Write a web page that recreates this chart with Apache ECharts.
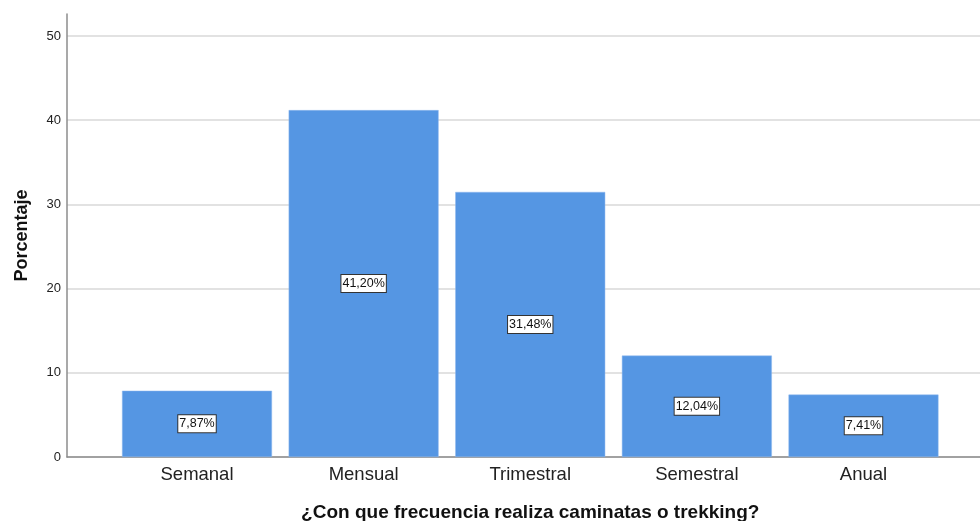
<!DOCTYPE html>
<html><head><meta charset="utf-8">
<script src="https://cdn.jsdelivr.net/npm/echarts@6/dist/echarts.min.js"></script>
<style>html,body{margin:0;padding:0;background:#fff}#c{width:980px;height:521px}</style>
</head><body><div id="c"></div>
<script>
const categories = ['Semanal', 'Mensual', 'Trimestral', 'Semestral', 'Anual'];
const values = [7.87, 41.20, 31.48, 12.04, 7.41];
const yTicks = [0, 10, 20, 30, 40, 50];
const xTitle = '¿Con que frecuencia realiza caminatas o trekking?';
const yTitle = 'Porcentaje';

const chart = echarts.init(document.getElementById('c'));
const font = 'Arial, "Liberation Sans", sans-serif';
chart.setOption({
  animation: false,
  grid: [
    {left: 67, right: 0, top: 36, bottom: 64, outerBoundsMode: 'none'},
    {left: 67, right: 0, top: 14, bottom: 64, outerBoundsMode: 'none'},
    {left: 113.7, right: 33.2, top: 36, bottom: 64, outerBoundsMode: 'none'}
  ],
  xAxis: [
    {gridIndex: 0, type: 'value', min: 0, max: 1, axisLine: {show: true, lineStyle: {color: '#8c8c8c', width: 1.5}}, axisTick: {show: false}, axisLabel: {show: false}, splitLine: {show: false}},
    {gridIndex: 1, type: 'value', show: false},
    {gridIndex: 2, type: 'category', data: categories, axisLine: {show: false}, axisTick: {show: false},
     axisLabel: {fontSize: 18.5, color: '#222', fontFamily: font, margin: 8},
     name: xTitle, nameLocation: 'middle', nameGap: 46,
     nameTextStyle: {fontSize: 19, fontWeight: 'bold', color: '#111', fontFamily: font}},
  ],
  yAxis: [
    {gridIndex: 0, type: 'value', min: yTicks[0], max: yTicks[yTicks.length - 1], interval: 10,
     axisLine: {show: false}, axisTick: {show: false},
     axisLabel: {fontSize: 13, color: '#222', fontFamily: font, margin: 6},
     splitLine: {show: true, lineStyle: {color: '#d9d9d9', width: 1.5}}},
    {gridIndex: 1, type: 'value', min: 0, max: 1, axisLine: {show: true, lineStyle: {color: '#8c8c8c', width: 1.5}},
     axisTick: {show: false}, axisLabel: {show: false}, splitLine: {show: false},
     name: yTitle, nameLocation: 'middle', nameGap: 36,
     nameTextStyle: {fontSize: 18, fontWeight: 'bold', color: '#111', fontFamily: font}},
    {gridIndex: 2, type: 'value', min: yTicks[0], max: yTicks[yTicks.length - 1], show: false}
  ],
  series: [{
    type: 'bar', xAxisIndex: 2, yAxisIndex: 2, data: values,
    barCategoryGap: '10%',
    itemStyle: {color: '#5596e3', borderColor: '#8fb9ee', borderWidth: 0.5},
    label: {show: true, position: 'inside', fontSize: 12.5, color: '#111', fontFamily: font,
      backgroundColor: '#fff', borderColor: '#333', borderWidth: 1, padding: [3, 1, 1, 1],
      formatter: p => p.value.toFixed(2).replace('.', ',') + '%'}
  }]
});
</script></body></html>
